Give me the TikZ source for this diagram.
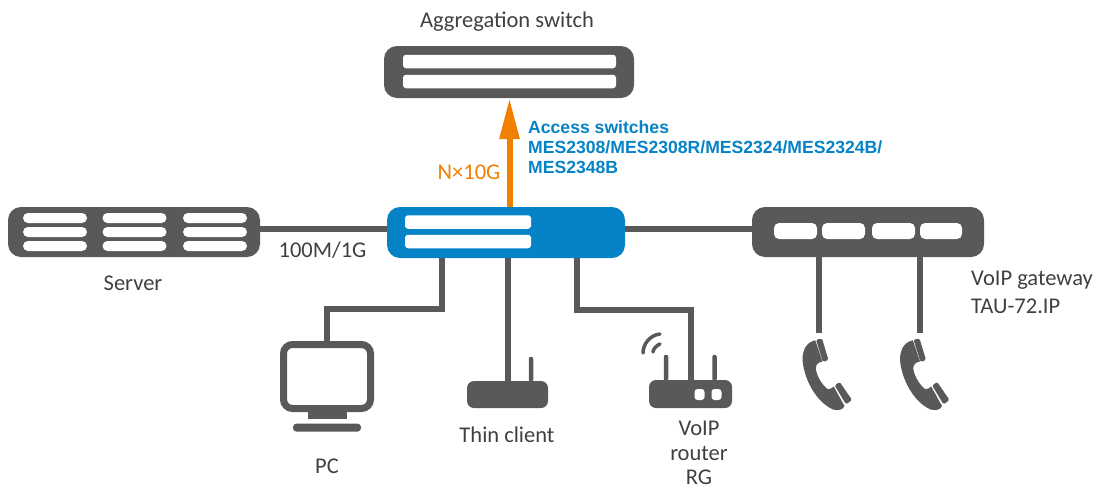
\documentclass[tikz,border=0pt]{standalone}
\usepackage{fontspec}
\setmainfont{Carlito}
\newfontfamily\bluefont{Liberation Sans}
\usetikzlibrary{positioning,arrows.meta}
\definecolor{icongray}{HTML}{595959}
\definecolor{textgray}{HTML}{404040}
\definecolor{accessblue}{HTML}{0583C6}
\definecolor{uplinkorange}{HTML}{F08000}

\begin{document}
\begin{tikzpicture}[x=1pt,y=-1pt,
device/.style={fill=icongray, rounded corners=13pt, inner sep=0pt, minimum width=#1, minimum height=51pt},
slot/.style={fill=white, rounded corners=3pt, inner sep=0pt, minimum width=#1, minimum height=13.5pt},
srvslot/.style={fill=white, rounded corners=5pt, inner sep=0pt, minimum width=#1, minimum height=10pt},
gwslot/.style={fill=white, rounded corners=5pt, inner sep=0pt, minimum width=#1, minimum height=16pt},
solid box/.style={fill=icongray, inner sep=0pt},
link/.style={draw=icongray, line width=6pt},
lbl/.style={text=textgray, font=\fontsize{22.5}{26}\selectfont, inner sep=0pt},
pics/handset/.style={code={
  \fill[icongray] (-3.7,7.3) .. controls (-12,9) and (-16.5,16) .. (-16.5,27) .. controls (-15,46) and (-3,69) .. (14,76.5) .. controls (20,78) and (24,76.5) .. (25.5,73) -- (14.7,53.5) .. controls (12,55.5) and (10,57) .. (8.5,56) .. controls (2,51) and (-3,41) .. (-3.2,35) .. controls (-3,31) and (0,29) .. (3.5,28.5) -- cycle;
  \fill[icongray, rounded corners=1.5pt] (-3,6.7) -- (3,5.5) -- (9.5,27) -- (4,29) -- cycle;
  \fill[icongray, rounded corners=1.5pt] (15.6,52.4) -- (20.7,49) -- (33,67) -- (27,71.4) -- cycle;
}}
]
\useasboundingbox (0,0) rectangle (1100,488);

% switches
\node[device=250pt, minimum height=52pt] (aggr) at (509,72) {};
\node[device=238pt, fill=accessblue] (access) at (506,232.5) {};
\node[device=252pt, minimum height=50pt] (server) at (134,232) {};
\node[device=232pt, minimum height=50pt] (gateway) at (868,232) {};

\node[slot=213pt] (aggrA) at (509.5,61.5) {};
\node[slot=213pt] (aggrB) at (509.5,81.5) {};
\node[slot=126pt] (accessA) at (468,222) {};
\node[slot=126pt] (accessB) at (468,241.5) {};

\foreach \c/\x in {A/55,B/134.5,C/215}
  \foreach \r/\y in {A/218,B/232,C/246}
    \node[srvslot=64pt] (srv\c\r) at (\x,\y) {};

\foreach \n/\x/\w in {A/795.5/43pt,B/843.5/43pt,C/893.5/43pt,D/941/42pt}
  \node[gwslot=\w] (gw\n) at (\x,231) {};

% PC
\node[draw=icongray, line width=7pt, fill=white, rounded corners=9pt, inner sep=0pt, minimum width=87pt, minimum height=64pt] (pc) at (327,376.5) {};
\node[solid box, minimum width=39pt, minimum height=7pt, below=0pt of pc] (pcstand) {};
\node[solid box, rounded corners=3.5pt, minimum width=68pt, minimum height=8pt, below=4pt of pcstand] (pcbase) {};

% thin client
\node[solid box, rounded corners=7pt, minimum width=81pt, minimum height=27pt] (thin) at (507.5,394.5) {};
\node[solid box, rounded corners=2pt, minimum width=4.5pt, minimum height=25pt, anchor=south] (thinant) at (531,382) {};

% router
\node[solid box, rounded corners=7pt, minimum width=83pt, minimum height=28pt] (router) at (690.5,394) {};
\node[solid box, rounded corners=2pt, minimum width=4.5pt, minimum height=26pt, anchor=south] (antA) at (666,381) {};
\node[solid box, rounded corners=2pt, minimum width=4.5pt, minimum height=26pt, anchor=south] (antB) at (714.5,381) {};
\node[fill=white, rounded corners=3pt, inner sep=0pt, minimum width=10pt, minimum height=11pt] (routerA) at (699.5,394.5) {};
\node[fill=white, rounded corners=3pt, inner sep=0pt, minimum width=10pt, minimum height=11pt] (routerB) at (716.5,394.5) {};
\draw[icongray, line width=3.5pt, line cap=round] (643,353) .. controls (643,344) and (650,335) .. (660,334);
\draw[icongray, line width=3.5pt, line cap=round] (653,352) .. controls (653,349) and (657,345) .. (660,344);

% phones
\coordinate (phoneA) at (819,333);
\coordinate (phoneB) at (920,333);
\pic at (phoneA) {handset};
\pic at ([xshift=-3.5pt]phoneB) {handset};

% links
\coordinate (uplink) at (509.5,150);
\coordinate (trunk) at (0,228.5);
\coordinate (pctap) at (442,309);
\coordinate (pcelbow) at (327,309);
\coordinate (rgtap) at (577,310);
\coordinate (rgelbow) at (691,310);
\draw[link] (server.east|-trunk) -- (access.west|-trunk);
\draw[link] (access.east|-trunk) -- (gateway.west|-trunk);
\draw[link] (access.south-|pctap) -- (pctap) -- (pcelbow) -- (pc.north-|pcelbow);
\draw[link] (access.south-|thin) -- (thin.north);
\draw[link] (access.south-|rgtap) -- (rgtap) -- (rgelbow) -- (router.north-|rgelbow);
\draw[link] (gateway.south-|phoneA) -- (phoneA);
\draw[link] (gateway.south-|phoneB) -- (phoneB);
\draw[line width=6pt, uplinkorange, -{Triangle[length=41pt,width=19pt]}] (access.north-|uplink) -- (aggr.south-|uplink);

% labels
\node[lbl] (aggrlabel) at (507,22) {Aggregation switch};
\node[lbl] (serverlabel) at (133,283) {Server};
\node[lbl] (speedlabel) at (322.5,250) {100M/1G};
\node[lbl, text=uplinkorange] (uplinklabel) at (469,172) {N×10G};
\node[lbl] (pclabel) at (327,466) {PC};
\node[lbl] (thinlabel) at (507,435) {Thin client};
\node[lbl, align=center, font=\fontsize{22.5}{24.5}\selectfont] (routerlabel) at (699,453) {VoIP\\router\\RG};
\node[lbl, align=left, anchor=west, font=\fontsize{22.5}{28}\selectfont] (gwlabel) at (971,292) {VoIP gateway\\TAU-72.IP};
\node[anchor=west, align=left, inner sep=0pt, text=accessblue, font=\bluefont\bfseries\fontsize{17.6}{20}\selectfont] (accesslabel) at (528,147) {Access switches\\MES2308/MES2308R/MES2324/MES2324B/\\MES2348B};
\end{tikzpicture}
\end{document}
